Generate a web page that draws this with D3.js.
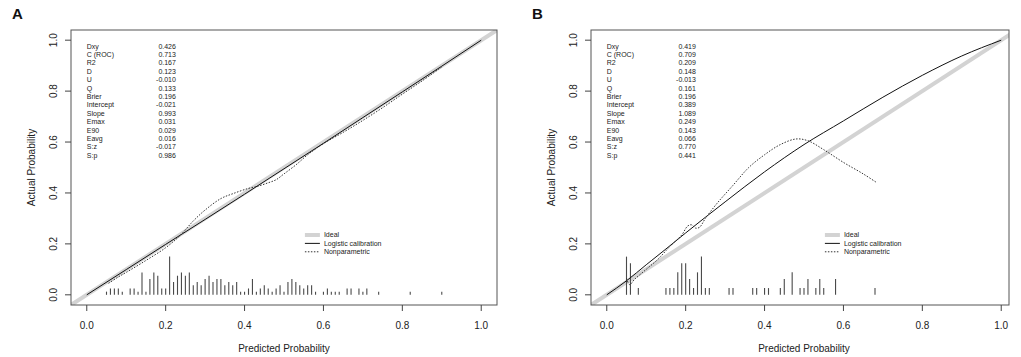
<!DOCTYPE html>
<html>
<head>
<meta charset="utf-8">
<script src="https://cdn.jsdelivr.net/npm/d3@7"></script>
<style>
  body { margin: 0; background: #fff; }
  text { font-family: "Liberation Sans", Arial, sans-serif; }
</style>
</head>
<body>
<div id="chart"></div>
<script>
// ---- data ----
const ticks = [0, 0.2, 0.4, 0.6, 0.8, 1.0];
const statLabels = ["Dxy", "C (ROC)", "R2", "D", "U", "Q", "Brier", "Intercept", "Slope", "Emax", "E90", "Eavg", "S:z", "S:p"];
const statsA = ["0.426", "0.713", "0.167", "0.123", "-0.010", "0.133", "0.196", "-0.021", "0.993", "0.031", "0.029", "0.016", "-0.017", "0.986"];
const statsB = ["0.419", "0.709", "0.209", "0.148", "-0.013", "0.161", "0.196", "0.389", "1.089", "0.249", "0.143", "0.066", "0.770", "0.441"];
const legendLabels = ["Ideal", "Logistic calibration", "Nonparametric"];

// logistic calibration curves
const logisticA = [[0, 0], [0.1, 0.099], [0.2, 0.198], [0.3, 0.296], [0.4, 0.395], [0.5, 0.495],
  [0.6, 0.595], [0.7, 0.696], [0.8, 0.797], [0.9, 0.898], [1, 1]];
const logisticB = [[0, 0], [0.05, 0.055], [0.1, 0.118], [0.15, 0.18], [0.2, 0.243], [0.3, 0.365],
  [0.4, 0.483], [0.5, 0.59], [0.6, 0.683], [0.7, 0.776], [0.8, 0.862], [0.9, 0.938], [1, 1]];

// nonparametric (loess) curves
const nonparA = [[0.055, 0.045], [0.08, 0.07], [0.1, 0.088], [0.15, 0.135], [0.2, 0.185], [0.236, 0.232],
  [0.27, 0.29], [0.3, 0.333], [0.34, 0.378], [0.37, 0.397], [0.41, 0.418], [0.435, 0.427], [0.46, 0.44],
  [0.48, 0.452], [0.5, 0.475], [0.53, 0.51], [0.56, 0.55], [0.6, 0.594], [0.65, 0.638], [0.7, 0.685],
  [0.75, 0.735], [0.8, 0.788], [0.85, 0.84], [0.9, 0.895]];
const nonparB = [[0.05, 0.065], [0.058, 0.04], [0.07, 0.06], [0.1, 0.1], [0.13, 0.14], [0.16, 0.19],
  [0.19, 0.235], [0.205, 0.27], [0.215, 0.275], [0.225, 0.262], [0.235, 0.265], [0.25, 0.3], [0.28, 0.36],
  [0.32, 0.43], [0.36, 0.5], [0.4, 0.55], [0.44, 0.59], [0.48, 0.612], [0.51, 0.605], [0.55, 0.57],
  [0.6, 0.52], [0.65, 0.475], [0.685, 0.44]];

// rug histogram of predicted probabilities: bin value and relative count
const rugBinsA = [0.05, 0.06, 0.07, 0.08, 0.09, 0.11, 0.12, 0.13, 0.14, 0.15, 0.16, 0.17, 0.18, 0.19, 0.20,
  0.21, 0.22, 0.23, 0.24, 0.25, 0.26, 0.27, 0.28, 0.29, 0.30, 0.31, 0.32, 0.33, 0.34, 0.35, 0.36, 0.37,
  0.38, 0.39, 0.40, 0.41, 0.42, 0.43, 0.44, 0.45, 0.46, 0.47, 0.48, 0.49, 0.50, 0.51, 0.52, 0.53, 0.54,
  0.55, 0.56, 0.57, 0.58, 0.60, 0.61, 0.62, 0.63, 0.64, 0.66, 0.67, 0.69, 0.70, 0.71, 0.74, 0.82, 0.90];
const rugCountsA = [1, 2, 2, 2, 1, 2, 2, 1, 7, 1, 5, 7, 6, 2, 2,
  12, 4, 6, 7, 6, 7, 3, 4, 3, 5, 6, 4, 5, 5, 3, 4, 3,
  4, 1, 1, 2, 5, 1, 2, 3, 2, 1, 2, 3, 1, 4, 5, 4, 3,
  2, 3, 3, 1, 1, 2, 1, 1, 1, 2, 2, 2, 1, 2, 1, 1, 1];
const rugBinsB = [0.05, 0.06, 0.08, 0.15, 0.16, 0.17, 0.18, 0.19, 0.20, 0.21, 0.22, 0.23, 0.24, 0.25, 0.26,
  0.31, 0.32, 0.37, 0.38, 0.40, 0.41, 0.44, 0.45, 0.47, 0.49, 0.50, 0.51, 0.53, 0.54, 0.55, 0.58, 0.68];
const rugCountsB = [17, 14, 3, 3, 3, 3, 10, 14, 14, 7, 3, 10, 17, 3, 3,
  3, 3, 3, 3, 3, 3, 3, 7, 10, 3, 3, 7, 3, 7, 3, 7, 3];

const panels = [
  { id: "A", left: 71, right: 497, stats: statsA, logistic: logisticA, nonpar: nonparA, bins: rugBinsA, counts: rugCountsA },
  { id: "B", left: 591, right: 1009, stats: statsB, logistic: logisticB, nonpar: nonparB, bins: rugBinsB, counts: rugCountsB }
];

const width = 1021, height = 357;
const plotTop = 30, plotBottom = 305;
const idealColor = "#d3d3d3";

const svg = d3.select("#chart").append("svg")
  .attr("width", width)
  .attr("height", height);

panels.forEach(p => drawPanel(p));

function drawPanel(p) {
  // x origin sits 4% of the data range inside the box (R's default axis extension)
  const unitX = (497 - 71) / 1.08;
  const x = d3.scaleLinear()
    .domain([0, 1])
    .range([p.left + 0.04 * unitX, p.left + 1.04 * unitX]);
  const y = d3.scaleLinear()
    .domain([-0.04, 1.04])
    .range([plotBottom, plotTop]);

  const g = svg.append("g");

  const clipId = "clip" + p.id;
  g.append("clipPath").attr("id", clipId)
    .append("rect")
    .attr("x", p.left).attr("y", plotTop)
    .attr("width", p.right - p.left).attr("height", plotBottom - plotTop);

  const plot = g.append("g").attr("clip-path", `url(#${clipId})`);

  // ideal diagonal
  plot.append("line")
    .attr("x1", x(-0.1)).attr("y1", y(-0.1))
    .attr("x2", x(1.1)).attr("y2", y(1.1))
    .attr("stroke", idealColor)
    .attr("stroke-width", 4);

  // rug histogram
  const maxCount = d3.max(p.counts);
  plot.selectAll(".rug")
    .data(p.bins.map((b, i) => ({ b, c: p.counts[i] })))
    .enter().append("line")
    .attr("class", "rug")
    .attr("x1", d => x(d.b)).attr("x2", d => x(d.b))
    .attr("y1", y(0))
    .attr("y2", d => y(0.15 * d.c / maxCount))
    .attr("stroke", "#4a4a4a")
    .attr("stroke-width", 1.1);

  const smooth = d3.line().curve(d3.curveCatmullRom).x(d => x(d[0])).y(d => y(d[1]));

  plot.append("path")
    .attr("d", d3.line().curve(d3.curveMonotoneX).x(d => x(d[0])).y(d => y(d[1]))(p.logistic))
    .attr("fill", "none")
    .attr("stroke", "#111")
    .attr("stroke-width", 1);

  plot.append("path")
    .attr("d", smooth(p.nonpar))
    .attr("fill", "none")
    .attr("stroke", "#333")
    .attr("stroke-width", 1)
    .attr("stroke-dasharray", "1.5,1.5");

  // box
  g.append("rect")
    .attr("x", p.left).attr("y", plotTop)
    .attr("width", p.right - p.left).attr("height", plotBottom - plotTop)
    .attr("fill", "none")
    .attr("stroke", "#555")
    .attr("stroke-width", 1);

  // x axis ticks
  g.selectAll(".xtick")
    .data(ticks)
    .enter().append("line")
    .attr("x1", d => x(d)).attr("x2", d => x(d))
    .attr("y1", plotBottom).attr("y2", plotBottom + 6)
    .attr("stroke", "#444");
  g.selectAll(".xlab")
    .data(ticks)
    .enter().append("text")
    .attr("x", d => x(d))
    .attr("y", 329)
    .attr("text-anchor", "middle")
    .style("font-size", "10px")
    .style("fill", "#222")
    .text(d => d.toFixed(1));

  // y axis ticks
  g.selectAll(".ytick")
    .data(ticks)
    .enter().append("line")
    .attr("x1", p.left - 6).attr("x2", p.left)
    .attr("y1", d => y(d)).attr("y2", d => y(d))
    .attr("stroke", "#444");
  g.selectAll(".ylab")
    .data(ticks)
    .enter().append("text")
    .attr("transform", d => `translate(${p.left - 14}, ${y(d)}) rotate(-90)`)
    .attr("text-anchor", "middle")
    .style("font-size", "10px")
    .style("fill", "#222")
    .text(d => d.toFixed(1));

  // axis titles
  g.append("text")
    .attr("x", x(0.5))
    .attr("y", 352)
    .attr("text-anchor", "middle")
    .style("font-size", "10px")
    .style("fill", "#222")
    .text("Predicted Probability");
  g.append("text")
    .attr("transform", `translate(${p.left - 36}, ${y(0.5)}) rotate(-90)`)
    .attr("text-anchor", "middle")
    .style("font-size", "10px")
    .style("fill", "#222")
    .text("Actual Probability");

  // panel letter
  g.append("text")
    .attr("x", p.left - 59)
    .attr("y", 19)
    .style("font-size", "15px")
    .style("font-weight", "bold")
    .style("fill", "#111")
    .text(p.id);

  // statistics block
  const stats = g.append("g").attr("class", "stats");
  stats.selectAll(".slab")
    .data(statLabels)
    .enter().append("text")
    .attr("x", x(0))
    .attr("y", (d, i) => 48.5 + i * 8.4)
    .style("font-size", "7px")
    .style("fill", "#222")
    .text(d => d);
  stats.selectAll(".sval")
    .data(p.stats)
    .enter().append("text")
    .attr("x", x(0.226))
    .attr("y", (d, i) => 48.5 + i * 8.4)
    .attr("text-anchor", "end")
    .style("font-size", "7px")
    .style("fill", "#222")
    .text(d => d);

  // legend
  const styles = [
    { stroke: idealColor, w: 4, dash: null },
    { stroke: "#111", w: 1, dash: null },
    { stroke: "#333", w: 1, dash: "1.5,1.5" }
  ];
  const legend = g.selectAll(".legend-item")
    .data(legendLabels)
    .enter().append("g")
    .attr("class", "legend-item")
    .attr("transform", (d, i) => `translate(${x(0.553)}, ${y(0.235 - i * 0.033)})`);
  legend.append("line")
    .attr("x1", 0).attr("x2", 15)
    .attr("stroke", (d, i) => styles[i].stroke)
    .attr("stroke-width", (d, i) => styles[i].w)
    .attr("stroke-dasharray", (d, i) => styles[i].dash);
  legend.append("text")
    .attr("x", 19)
    .attr("y", 2.5)
    .style("font-size", "7px")
    .style("fill", "#222")
    .text(d => d);
}
</script>
</body>
</html>
